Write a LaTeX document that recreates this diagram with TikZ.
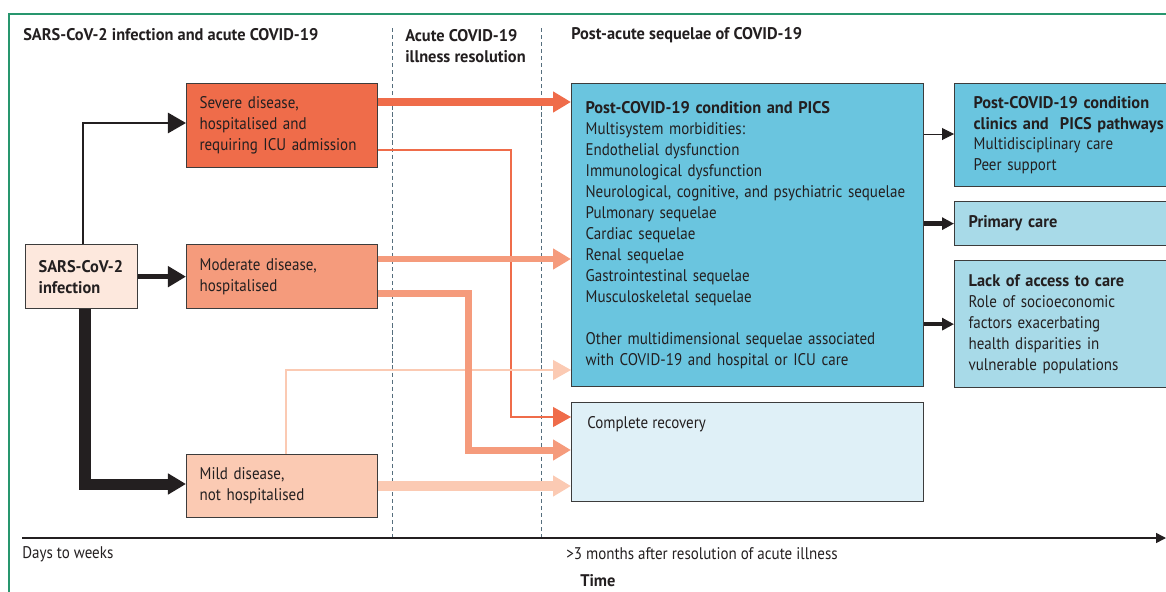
\documentclass[tikz,border=0pt]{standalone}
\usepackage{fontspec}
\setmainfont{PT Sans}[FakeStretch=0.89, BoldFont={PT Sans Bold}, BoldFeatures={FakeStretch=0.97}]
\usetikzlibrary{arrows.meta,positioning}
\definecolor{txtcol}{RGB}{35,31,32}
\definecolor{boxedge}{RGB}{60,60,60}
\definecolor{framecol}{RGB}{40,150,110}
\definecolor{dashcol}{RGB}{85,110,125}
\definecolor{infcol}{RGB}{253,232,221}
\definecolor{sevcol}{RGB}{239,108,74}
\definecolor{modcol}{RGB}{245,155,124}
\definecolor{mildcol}{RGB}{251,202,179}
\definecolor{postcol}{RGB}{106,197,223}
\definecolor{carecol}{RGB}{168,218,232}
\definecolor{reccol}{RGB}{223,240,247}
\newcommand{\figfont}{\fontsize{12}{14.9}\selectfont}
\tikzset{
  blk/.style={draw=boxedge, line width=0.9pt, anchor=north west, align=left,
              inner xsep=0.325cm, inner ysep=0pt, font=\figfont, text=txtcol},
  hdr/.style={anchor=west, align=left, inner sep=0pt, font=\figfont\bfseries, text=txtcol},
  tlab/.style={anchor=west, inner sep=0pt, font=\figfont, text=txtcol},
  sepline/.style={dashcol, line width=0.7pt, dash pattern=on 3pt off 2pt},
  flowarr/.style={-{Triangle[length=0.45cm,width=0.5cm]}},
  carearr/.style={-{Triangle[length=0.3cm,width=0.3cm]}, txtcol},
}

\begin{document}
\begin{tikzpicture}[x=0.025cm, y=-0.025cm]
  \useasboundingbox (0,0) rectangle (1166,592);
  \draw[framecol, line width=1pt] (9,592) -- (9,14) -- (1166,14);

  % phases
  \node[hdr] (hacute) at (23,35) {SARS-CoV-2 infection and acute COVID-19};
  \node[hdr] (hres) at (405,46) {Acute COVID-19\\illness resolution};
  \node[hdr] (hpost) at (571,35) {Post-acute sequelae of COVID-19};
  \draw[sepline] (392,28) -- (392,538);
  \draw[sepline] (541,28) -- (541,538);

  % time axis
  \coordinate (t0) at (22,538);
  \coordinate (t1) at (1166,538);
  \draw[txtcol, line width=1.1pt, -{Triangle[length=0.25cm,width=0.25cm]}] (t0) -- (t1);
  \node[tlab] (days) at (22,554) {Days to weeks};
  \node[tlab] (months) at (566,554) {>3 months after resolution of acute illness};
  \node[hdr] (time) at (580,581) {Time};

  % boxes
  \node[blk, fill=infcol, text width=2.15cm, minimum height=1.6cm, font=\figfont\bfseries] (inf) at (25,244) {SARS-CoV-2\\infection};
  \node[blk, fill=sevcol, text width=4.125cm, minimum height=2.1cm] (sev) at (186,83) {Severe disease,\\hospitalised and\\requiring ICU admission};
  \node[blk, fill=modcol, text width=4.125cm, minimum height=1.6cm] (mod) at (186,244) {Moderate disease,\\hospitalised};
  \node[blk, fill=mildcol, text width=4.125cm, minimum height=1.575cm] (mild) at (186,454) {Mild disease,\\not hospitalised};
  \node[blk, fill=postcol, inner xsep=0.35cm, text width=8.1cm, minimum height=7.575cm] (post) at (571,83)
    {\textbf{Post-COVID-19 condition and PICS}\\Multisystem morbidities:\\Endothelial dysfunction\\Immunological dysfunction\\
     Neurological, cognitive, and psychiatric sequelae\\Pulmonary sequelae\\Cardiac sequelae\\Renal sequelae\\
     Gastrointestinal sequelae\\Musculoskeletal sequelae\\[14.9pt]Other multidimensional sequelae associated\\
     with COVID-19 and hospital or ICU care};
  \node[blk, fill=reccol, minimum width=8.8cm, minimum height=2.475cm,
        label={[anchor=north west, inner sep=0pt, xshift=0.4cm, yshift=-0.36cm, font=\figfont, text=txtcol]north west:Complete recovery}] (rec) at (571,402) {};
  \node[blk, fill=postcol, inner xsep=0.475cm, text width=5.5cm, minimum height=2.575cm] (clin) at (954,83)
    {\textbf{Post-COVID-19 condition}\\\textbf{clinics and \ PICS pathways}\\Multidisciplinary care\\Peer support};
  \node[blk, fill=carecol, inner xsep=0.35cm, text width=5.5cm, minimum height=1.1cm] (prim) at (954,201) {\textbf{Primary care}};
  \node[blk, fill=carecol, inner xsep=0.35cm, text width=5.5cm, minimum height=3.175cm] (lack) at (954,260)
    {\textbf{Lack of access to care}\\Role of socioeconomic\\factors exacerbating\\health disparities in\\vulnerable populations};

  % infection to severity
  \draw[flowarr, txtcol, line width=0.0675cm] (inf.north -| 83,0) |- (sev.west |- 0,123);
  \draw[flowarr, txtcol, line width=0.1375cm] (inf.east) -- (mod.west);
  \draw[flowarr, txtcol, line width=0.275cm] (inf.south -| 85,0) |- (mild.west |- 0,484);

  % severity to outcome
  \draw[flowarr, sevcol, line width=0.0325cm] (sev.east |- 0,150) -| (511,417) -- (rec.west |- 0,417);
  \draw[flowarr, mildcol, line width=0.0325cm] (mild.north -| 286,0) |- (post.west |- 0,370);
  \draw[flowarr, sevcol, line width=0.2cm] (sev.east |- 0,102) -- (post.west |- 0,102);
  \draw[flowarr, modcol, line width=0.15cm] (mod.east |- 0,259) -- (post.west |- 0,259);
  \draw[flowarr, modcol, line width=0.175cm] (mod.east |- 0,293) -| (468,450) -- (rec.west |- 0,450);
  \draw[flowarr, mildcol, line width=0.25cm] (mild.east |- 0,486) -- (rec.west |- 0,486);

  % care
  \draw[carearr, line width=0.025cm] (post.east |- 0,134) -- (clin.west |- 0,134);
  \draw[carearr, line width=0.1125cm] (post.east |- prim.west) -- (prim.west);
  \draw[carearr, line width=0.1125cm] (post.east |- lack.west) -- (lack.west);
\end{tikzpicture}
\end{document}
